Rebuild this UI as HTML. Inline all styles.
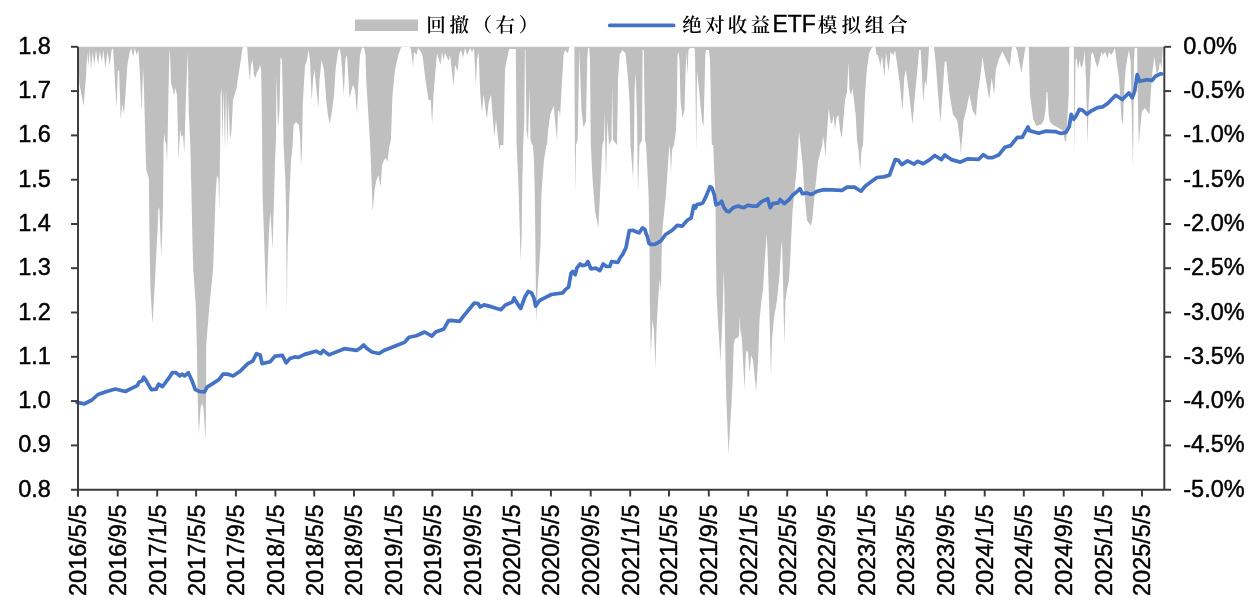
<!DOCTYPE html>
<html><head><meta charset="utf-8"><title>绝对收益ETF模拟组合</title>
<style>html,body{margin:0;padding:0;background:#fff;}svg{display:block;}</style>
</head><body>
<svg width="1260" height="606" viewBox="0 0 1260 606"><polygon fill="#BFBFBF" points="78.5,46.8 78.5,47 79.3,83 83.6,106 86.1,75 87.2,52 88.2,66 89.9,50 91,70 92.7,52 94.3,65 96,50 98.1,65 99.8,51 101.8,62 103.4,50 105.4,68 107.5,52 109.7,65 111.7,50 113,48 114.1,65 115.3,88 116.6,108 117.9,70 119.1,71 120.7,119 122.4,104 124,114 125.7,91 127.3,66 129.5,53 131.1,48 133.1,57 134.8,48 136.7,55 138.4,50 139.7,70 141.7,112 143,67 144,90 145.5,147 146.3,170 148.8,178 149.6,245 150.5,290 152.5,324 155,280 157.5,230 158.3,210 159.3,207 160.3,232 161.2,257 162.3,232 163.1,200 163.6,145 164.2,133 165,140 166.2,145 167,163 167.8,130 168.5,90 169.2,60 169.7,49 170.3,60 171,83 172.5,88 174,95 175.5,88 177,95 178.5,160 180,130 181.5,137 183,135 184.3,153 185.5,110 187,70 187.8,52 188.7,110 190.3,145 191.5,195 192.5,245 193.3,269 195.8,306 196.8,345 197.5,390 198.9,434 200.5,408 202,403 203.5,408 205.6,441 206.1,390 206.2,345 209.4,306 213.1,269 215.6,195 217,175 218.5,180 219.2,211 219.8,170 220.2,145 220.6,95 221.5,88 222.5,145 223.5,90 225,150 226,90 227.5,148 228.5,100 230,140 231.5,130 233,100 234.5,95 236.5,88 238.5,75 240.5,62 242,52 242.8,47 247.2,47 248,60 249.8,81 251,65 252.5,60 254,75 255.5,78 257,72 258.5,70 260,65 261.2,70 262.2,145 262.6,195 264.3,245 265.5,280 266.4,311 267.5,270 269,230 270.5,212 271.5,230 272.5,250 273.3,220 274.2,195 275,160 276,140 276.5,75 278,127 279.5,110 280.5,57 282,60 283.6,145 285.3,178 286,211 286.5,260 286.9,316 287.3,270 287.7,245 288.6,227 289.4,195 291,161 292.7,145 293.5,125 296,122 299,125 300.3,140 301,166 302,150 302.8,103 305,66 306.7,61 308.5,50 310,60 311.7,101 313,80 314.5,70 316,85 318.3,108 319.5,80 321.5,60 324,70 326.5,103 328,115 329.8,124 332,111 334,95 335.5,70 338,52 339.5,48 341,55 343.8,95 345.5,58 347,55 349.6,98 352,88 353,85 355,90 357,114 358.5,80 360,55 362,47.5 364,48 365.5,55 366.1,78 368.6,119 370.2,145 371.5,178 372.7,212 374.5,190 376.5,180 378.5,175 380.7,187 382,165 384,160 386,158 387.5,162 389,148 390.9,140 392.5,94.5 395,70 398.3,55 400.8,48.3 401.5,47 410,47 411,50 413.1,66.5 414,52 416.5,55 418,48 421,52 422.5,55 425.5,80 428.5,100 430.8,100 432.1,124 433.5,95 435.5,70 437,53 440.5,65 442,52 443.7,60 445,53 448.6,61 450,55 453.6,86 455,65 457.7,71 459,55 461,50 463,58 465,48 467,55 470,48 472,52 474,48 475.8,85 477,60 478.6,52 480.3,94.5 482,112.7 483.6,94.5 486.9,119.3 488.6,102.8 491,94.5 494.3,137.4 496,119.3 499.3,150 500.5,145 503.4,145 504,120 505,70 506.7,60 509.2,49 515.8,49 516.6,145 518.3,180 520.2,245 520.7,261.5 521.5,240 522.4,180 523.2,145 524.3,120 524.9,50 525.5,50 526.5,130 528,140 529.5,88 530.5,140 532.3,145 533,145 534,161.5 534.8,194.5 535.4,245 535.9,290 536.4,324 537.5,290 539,270 540.5,245 541.4,194.5 543.8,161.5 546.3,145 547.1,145 548,131 550.3,114 553.7,106 555.5,125 557,141 558,110 559.5,112 560,118 561.8,85 563.6,55 565,50 566.5,52 568,53 569,48 569.8,47 574.4,47 574.6,100 575.2,194.5 576,145 577.7,140 579.3,50 581.5,110 583.5,127.5 586,121 587.2,60 588,48 589.3,48 590,60 590.8,145 592.5,178 595,211 598.3,227.5 600,194.5 601.6,161.5 602.4,145 604,140 604.5,111 606,178 607.5,120 609,145 611.5,140 612.3,86 613,140 617,145 618.1,78 619.7,54.9 622.2,50 625.5,53.3 628,78 629.6,102.8 630.5,145 633,178 634,145 634.6,90 635.8,73 637,120 638,193 639.5,145 642,140 642.6,50 643.8,50 645,140 646.1,145 648.6,194.5 649.5,245 649.8,300 650.8,355 652.5,320 654,330 655.4,368.6 656.5,330 658.1,300 659.5,280 661,291 661.8,245 662.6,227.5 666,194.5 669.2,145 670,150 671,173 672,150 674,145 676,130 677,100 677.5,55 678.5,52 679.5,60 680.5,100 682.5,118 684.5,110 685.6,70 686.5,52 687.5,75 688.5,50 690,48 694,48 695,50 696.3,153 697,70 700,100 702,120 703.5,127 704.5,90 705.3,55 706,50 709,50 710,60 711,110 711.8,145 712.5,145 713.3,145 713.8,161.5 715.5,195 715.8,245 716.6,295 718.3,327 719.5,345 720.3,361.5 721.5,340 723,300 723.6,270 724.3,290 725.2,345 725.8,379 726.4,400 728.5,454 731.7,400 732.7,379 733.7,345 735,339 737,338 739,336 739.8,316 740.4,330 742,340 743.5,370 744.6,389 745.5,360 746.5,350 748,352 749.6,373 751,355 753,360 756.1,391 757.5,370 758.5,350 759.5,320 761.5,300 763,290 764.5,265 765.5,250 766.5,234 767.5,250 769,300 770,335 771,376 772,340 774,318 777,300 779.5,275 781,250 782,240 783,280 784.3,345 785.5,300 787,290 789,280 790.2,260 790.9,245 792.5,211 796.6,170 798.3,145 799,131 800.5,145 802.4,162 804.5,195 807,220 810.7,226 812.3,220 814.6,195 818,162 822.2,145 823,136 824.5,145 825.5,158 826.5,140 828.8,108 830.5,122 832,124 833.5,115 835,130 836.5,118 838.4,115 840,130 841.6,138 843,125 845,100 847,92 848.6,62 849.5,90 851,95 852.5,88 854.5,105 855.7,115 857,140 858.5,150 860.2,171 861.5,150 863,145 865,95 866.8,70 869.2,53 871.7,48 873,47 875.5,47 876.5,55 877.8,54.9 879.5,61.5 880.3,66.5 882,56 884.4,76.4 886,53 888.6,71.4 890.5,52 893.5,54.9 895,50 896.8,61.5 900.1,86.3 902.6,111 904.2,78 905.9,69.8 909.2,94.5 912.5,124.2 915,94.5 917.4,69.8 919.1,50 920.7,50 921.5,65 923.2,102.8 925,80 926.5,86.3 928.2,61.5 929,47 934,47 935.6,61.5 938.1,94.5 940.5,122.6 943,86.3 944.7,61.5 946.3,61.5 949.6,94.5 952.9,114.3 957,120 957.9,124.2 960.3,144 960.8,154.7 962.8,130.8 963.6,120 966.1,111 969.4,94.5 972.7,111 976,116 977.7,94.5 980.1,78 982.6,56.6 984.3,69.8 989.2,99.5 991.7,78 994.2,94.5 995.8,69.8 999.1,58.2 1002.4,51.6 1005.7,58.2 1009.8,66.5 1011.5,50 1012.3,47 1015.6,47 1017.3,51.6 1021.4,73 1024.7,51.6 1025.5,47 1028.8,47 1029.9,94.5 1033.2,119.3 1036.5,125.9 1041.5,124.2 1044,120 1045.5,110 1046.6,92 1047.4,92 1048.7,115 1050,122 1053,125 1058,127.5 1062.9,130.8 1065,141.5 1066.2,140.7 1068.7,94.5 1069.3,48.3 1069.5,47 1073.8,47 1074.5,153 1075.5,60 1076.6,58 1078,70 1079.5,60 1081,68 1082.7,65 1084,58 1084.6,50 1086,80 1087,122 1087.5,145 1088.5,108 1089.8,82 1091.1,55 1092.5,52 1093.7,55 1095.5,62 1097.7,68 1099.5,60 1101.7,52 1103,55 1105,52 1107.5,58 1109.1,52 1110.8,55 1113.2,52 1114.9,48 1117,65 1119,78 1121.5,119.3 1122.8,125 1124,94.5 1125.5,70 1127.3,58 1128.9,50 1130.6,61.5 1133,168 1134,60 1134.7,48 1137.2,48 1137.5,80 1138.8,145 1140,130 1142,111 1145,108 1147,111 1149.5,114.3 1151,90 1152.5,70 1154.4,57 1155.5,65 1156.8,75 1158.6,70 1160,62 1161.5,68 1163,47 1163,46.8"/>
<polyline fill="none" stroke="#4472C4" stroke-width="3.7" stroke-linejoin="round" stroke-linecap="round" points="77,402.4 84.4,403.9 91.9,400 98,394.5 106.7,391.5 115.4,389 125.3,391.5 131.5,388.3 137.6,385.3 138.9,382.1 141.9,380.9 143.8,377.2 146.3,380.9 151.3,389.6 156.2,389.1 158.7,384.1 162.4,386.6 164.9,383.4 168.6,378.4 172.3,372.7 176,372.7 179.7,375.9 182.2,374.2 184.7,375.9 188.4,372.7 192.1,380.9 195.3,389.6 199.5,391.5 204.5,392 207,387.1 213.1,383.4 219.3,379.2 223,374.2 228,374.2 233,376 240.4,371 247.8,363.6 252.7,361.1 256.5,353.7 260.2,354.9 262.1,363.6 270.1,361.8 275,356.1 282.4,355.4 286.2,362.8 289.9,358.6 294.8,356.9 298.5,357.4 304.7,354.4 315.9,351.2 320.8,353.7 323.3,350.4 329,354.9 344.3,348.7 356.7,350.4 360,348.3 363.7,345 366.7,348.3 371.9,352 379.3,353.5 383.8,350.5 389.7,348.3 397.1,345.3 404.5,342.4 409,337.2 416.4,335.7 424.6,332 432,336.1 435.7,332 443.9,329 448.3,320.8 450.6,320.4 459.5,321.3 463.9,315.6 474.3,303 478,303.5 480.2,307 484,304.9 491.9,306.9 500.9,309.7 505.1,305.2 512.5,301.9 514.1,297.8 517.4,303.6 520.7,308.5 524.9,297 528.2,291.5 531.5,292.9 533.9,297.8 535.6,306.1 539.7,300.3 544.7,297.8 551.3,294.5 562.8,292.9 565.3,289.6 568.6,287.1 571.1,273.1 572.7,271.4 575.2,274.7 576.8,268.1 580.1,264 582.6,265.6 585.9,264.8 587.9,261.5 590.9,268.9 595.8,268.1 599.9,270.6 603.2,264 606.5,266.5 609.8,266.5 611.5,261.5 617.8,262.5 620,258 622.7,254.3 626,247.7 629.3,230.5 632.6,230.3 636.7,232 639.2,232.8 642.5,227.9 645,229.5 645.8,232.8 647.5,237 649.1,243.5 650.5,244.4 654.9,244.4 660.7,241.1 665.6,234.5 672.2,230.3 677.2,225.4 682.1,226.2 687.1,220.4 691.2,218 693.7,205.6 695.5,208 697,204.5 700.3,203.9 702.7,203 705.2,198.2 710.2,186.6 712,188 714.3,194.9 716,204.8 720,203.1 721.6,201.1 724,207.7 726.5,211 729,211.8 733.1,207.7 738.1,206.1 743.8,207.7 748,205.2 752.9,206.1 757,206.1 761.2,201.9 767.8,198.6 770.2,207.7 772.7,203.6 778.5,202.8 780.1,199.5 784.3,203.6 789.2,199.5 792.5,195.3 796.6,192 799.9,188.7 802.4,193.7 806.5,192.9 811.5,194.5 817.3,191.2 823.9,189.6 832.1,189.9 842,190.4 847,187.1 854.4,187.1 861,191.2 865.1,186.3 871.7,181.3 877,177.5 883.6,176.9 889.4,175.3 895.2,159.6 898.5,160.4 901.8,164.6 907.5,160.9 914.1,164.2 917.4,161.3 923.2,163.7 929.8,159.6 934.8,155.5 941.4,159.6 944.7,155 951.3,159.6 960.3,162.1 967.8,158.8 978.5,159.3 983.4,154.7 987.6,157.6 992.5,157.6 999.1,154.7 1004.9,147.2 1010.7,145.6 1017.3,137.3 1022.2,137.3 1028,126.9 1029.6,130.7 1038.7,133.2 1045.3,131.2 1055.2,131.6 1061,133.5 1066,132.4 1069.2,126.6 1071.2,114.3 1073.6,119.3 1076.1,116 1079.4,109.4 1082.7,110.2 1086.8,114.3 1091,111 1097.6,107.7 1102.5,106.9 1107.5,103.6 1115.7,95.3 1122.3,99.5 1128.9,92.9 1132.2,97.8 1134.7,91.2 1137.2,74.7 1139.6,81.3 1147,79.7 1152,80.5 1155.3,76.4 1160.3,73.9 1161.6,73.9"/>
<g stroke="#3a3a3a" stroke-width="1.95" fill="none">
<line x1="78" y1="46.8" x2="78" y2="496.5"/>
<line x1="1164.3" y1="46.8" x2="1164.3" y2="489.7"/>
<line x1="71" y1="489.7" x2="1171.1" y2="489.7"/>
<line x1="71" y1="46.8" x2="78" y2="46.8"/>
<line x1="1164.3" y1="46.8" x2="1171.1" y2="46.8"/>
<line x1="71" y1="91.1" x2="78" y2="91.1"/>
<line x1="1164.3" y1="91.1" x2="1171.1" y2="91.1"/>
<line x1="71" y1="135.4" x2="78" y2="135.4"/>
<line x1="1164.3" y1="135.4" x2="1171.1" y2="135.4"/>
<line x1="71" y1="179.7" x2="78" y2="179.7"/>
<line x1="1164.3" y1="179.7" x2="1171.1" y2="179.7"/>
<line x1="71" y1="224" x2="78" y2="224"/>
<line x1="1164.3" y1="224" x2="1171.1" y2="224"/>
<line x1="71" y1="268.2" x2="78" y2="268.2"/>
<line x1="1164.3" y1="268.2" x2="1171.1" y2="268.2"/>
<line x1="71" y1="312.5" x2="78" y2="312.5"/>
<line x1="1164.3" y1="312.5" x2="1171.1" y2="312.5"/>
<line x1="71" y1="356.8" x2="78" y2="356.8"/>
<line x1="1164.3" y1="356.8" x2="1171.1" y2="356.8"/>
<line x1="71" y1="401.1" x2="78" y2="401.1"/>
<line x1="1164.3" y1="401.1" x2="1171.1" y2="401.1"/>
<line x1="71" y1="445.4" x2="78" y2="445.4"/>
<line x1="1164.3" y1="445.4" x2="1171.1" y2="445.4"/>
<line x1="77.9" y1="489.7" x2="77.9" y2="496.5"/>
<line x1="117.7" y1="489.7" x2="117.7" y2="496.5"/>
<line x1="157.2" y1="489.7" x2="157.2" y2="496.5"/>
<line x1="196.1" y1="489.7" x2="196.1" y2="496.5"/>
<line x1="235.9" y1="489.7" x2="235.9" y2="496.5"/>
<line x1="275.4" y1="489.7" x2="275.4" y2="496.5"/>
<line x1="314.2" y1="489.7" x2="314.2" y2="496.5"/>
<line x1="354" y1="489.7" x2="354" y2="496.5"/>
<line x1="393.5" y1="489.7" x2="393.5" y2="496.5"/>
<line x1="432.4" y1="489.7" x2="432.4" y2="496.5"/>
<line x1="472.2" y1="489.7" x2="472.2" y2="496.5"/>
<line x1="511.7" y1="489.7" x2="511.7" y2="496.5"/>
<line x1="550.9" y1="489.7" x2="550.9" y2="496.5"/>
<line x1="590.7" y1="489.7" x2="590.7" y2="496.5"/>
<line x1="630.2" y1="489.7" x2="630.2" y2="496.5"/>
<line x1="669" y1="489.7" x2="669" y2="496.5"/>
<line x1="708.8" y1="489.7" x2="708.8" y2="496.5"/>
<line x1="748.3" y1="489.7" x2="748.3" y2="496.5"/>
<line x1="787.2" y1="489.7" x2="787.2" y2="496.5"/>
<line x1="827" y1="489.7" x2="827" y2="496.5"/>
<line x1="866.5" y1="489.7" x2="866.5" y2="496.5"/>
<line x1="905.4" y1="489.7" x2="905.4" y2="496.5"/>
<line x1="945.2" y1="489.7" x2="945.2" y2="496.5"/>
<line x1="984.7" y1="489.7" x2="984.7" y2="496.5"/>
<line x1="1023.8" y1="489.7" x2="1023.8" y2="496.5"/>
<line x1="1063.7" y1="489.7" x2="1063.7" y2="496.5"/>
<line x1="1103.2" y1="489.7" x2="1103.2" y2="496.5"/>
<line x1="1142" y1="489.7" x2="1142" y2="496.5"/>
</g>
<g style="font-family:'Liberation Sans',Arial,sans-serif;font-size:23.5px" fill="#000" stroke="#000" stroke-width="0.45">
<text x="50.8" y="53.8" text-anchor="end">1.8</text>
<text x="1183.3" y="53.8">0.0%</text>
<text x="50.8" y="98.1" text-anchor="end">1.7</text>
<text x="1183.3" y="98.1">-0.5%</text>
<text x="50.8" y="142.4" text-anchor="end">1.6</text>
<text x="1183.3" y="142.4">-1.0%</text>
<text x="50.8" y="186.7" text-anchor="end">1.5</text>
<text x="1183.3" y="186.7">-1.5%</text>
<text x="50.8" y="231" text-anchor="end">1.4</text>
<text x="1183.3" y="231">-2.0%</text>
<text x="50.8" y="275.2" text-anchor="end">1.3</text>
<text x="1183.3" y="275.2">-2.5%</text>
<text x="50.8" y="319.5" text-anchor="end">1.2</text>
<text x="1183.3" y="319.5">-3.0%</text>
<text x="50.8" y="363.8" text-anchor="end">1.1</text>
<text x="1183.3" y="363.8">-3.5%</text>
<text x="50.8" y="408.1" text-anchor="end">1.0</text>
<text x="1183.3" y="408.1">-4.0%</text>
<text x="50.8" y="452.4" text-anchor="end">0.9</text>
<text x="1183.3" y="452.4">-4.5%</text>
<text x="50.8" y="496.7" text-anchor="end">0.8</text>
<text x="1183.3" y="496.7">-5.0%</text>
<text transform="translate(86.3,504.5) rotate(-90)" text-anchor="end">2016/5/5</text>
<text transform="translate(126.1,504.5) rotate(-90)" text-anchor="end">2016/9/5</text>
<text transform="translate(165.6,504.5) rotate(-90)" text-anchor="end">2017/1/5</text>
<text transform="translate(204.5,504.5) rotate(-90)" text-anchor="end">2017/5/5</text>
<text transform="translate(244.3,504.5) rotate(-90)" text-anchor="end">2017/9/5</text>
<text transform="translate(283.8,504.5) rotate(-90)" text-anchor="end">2018/1/5</text>
<text transform="translate(322.6,504.5) rotate(-90)" text-anchor="end">2018/5/5</text>
<text transform="translate(362.4,504.5) rotate(-90)" text-anchor="end">2018/9/5</text>
<text transform="translate(401.9,504.5) rotate(-90)" text-anchor="end">2019/1/5</text>
<text transform="translate(440.8,504.5) rotate(-90)" text-anchor="end">2019/5/5</text>
<text transform="translate(480.6,504.5) rotate(-90)" text-anchor="end">2019/9/5</text>
<text transform="translate(520.1,504.5) rotate(-90)" text-anchor="end">2020/1/5</text>
<text transform="translate(559.3,504.5) rotate(-90)" text-anchor="end">2020/5/5</text>
<text transform="translate(599.1,504.5) rotate(-90)" text-anchor="end">2020/9/5</text>
<text transform="translate(638.6,504.5) rotate(-90)" text-anchor="end">2021/1/5</text>
<text transform="translate(677.4,504.5) rotate(-90)" text-anchor="end">2021/5/5</text>
<text transform="translate(717.2,504.5) rotate(-90)" text-anchor="end">2021/9/5</text>
<text transform="translate(756.7,504.5) rotate(-90)" text-anchor="end">2022/1/5</text>
<text transform="translate(795.6,504.5) rotate(-90)" text-anchor="end">2022/5/5</text>
<text transform="translate(835.4,504.5) rotate(-90)" text-anchor="end">2022/9/5</text>
<text transform="translate(874.9,504.5) rotate(-90)" text-anchor="end">2023/1/5</text>
<text transform="translate(913.8,504.5) rotate(-90)" text-anchor="end">2023/5/5</text>
<text transform="translate(953.6,504.5) rotate(-90)" text-anchor="end">2023/9/5</text>
<text transform="translate(993.1,504.5) rotate(-90)" text-anchor="end">2024/1/5</text>
<text transform="translate(1032.2,504.5) rotate(-90)" text-anchor="end">2024/5/5</text>
<text transform="translate(1072.1,504.5) rotate(-90)" text-anchor="end">2024/9/5</text>
<text transform="translate(1111.6,504.5) rotate(-90)" text-anchor="end">2025/1/5</text>
<text transform="translate(1150.4,504.5) rotate(-90)" text-anchor="end">2025/5/5</text>
</g>
<rect x="355" y="19.5" width="63" height="11.5" fill="#BFBFBF"/>
<line x1="609.8" y1="25.4" x2="673.6" y2="25.4" stroke="#4472C4" stroke-width="3.8" stroke-linecap="round"/>
<text x="426.3" y="31.6" style="font-family:'Liberation Serif','Noto Serif CJK SC',serif;font-size:19.5px;font-weight:600;letter-spacing:3.6px" fill="#000">回撤（右）</text>
<text y="31.6" text-anchor="middle" style="font-family:'Liberation Serif','Noto Serif CJK SC',serif;font-size:19.5px;font-weight:600" fill="#000"><tspan x="691.9 714.7 737.5 760.55">绝对收益</tspan><tspan x="772.4" y="31.7" text-anchor="start" style="font-family:'Liberation Sans',Arial,sans-serif;font-size:23px;font-weight:400" stroke="#000" stroke-width="0.4">ETF</tspan><tspan x="827.45 851.35 874.6 897.65" y="31.6">模拟组合</tspan></text></svg>
</body></html>
